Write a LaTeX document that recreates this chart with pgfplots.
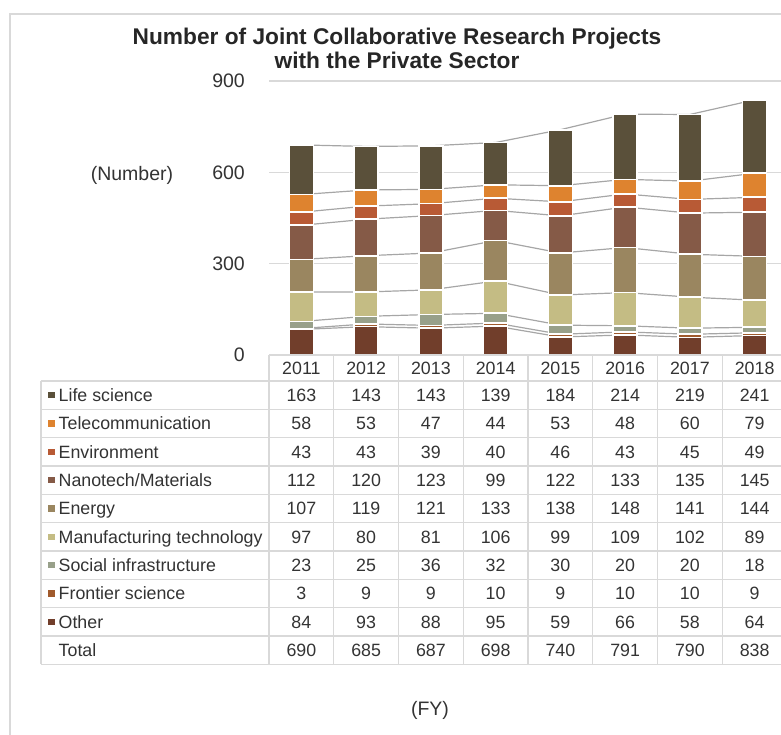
\documentclass[border=0pt]{standalone}
\usepackage{fontspec}
\setmainfont{Liberation Sans}
\usepackage{pgfplots}
\usepackage{pgfplotstable}
\pgfplotsset{compat=1.18}

\definecolor{lifec}{HTML}{5A503A}
\definecolor{telec}{HTML}{DE832F}
\definecolor{envc}{HTML}{B85A35}
\definecolor{nanoc}{HTML}{855A47}
\definecolor{energyc}{HTML}{9A8660}
\definecolor{manufc}{HTML}{C4BC84}
\definecolor{socialc}{HTML}{98A08A}
\definecolor{frontc}{HTML}{A05A2C}
\definecolor{otherc}{HTML}{713E2B}
\definecolor{gridc}{HTML}{D9D9D9}
\definecolor{serc}{HTML}{A6A6A6}
\definecolor{txt}{HTML}{333333}

% projects per field, FY2011-2018 (x = 0..7)
\pgfplotstableread{
x year other frontier social manuf energy nano env tele life total
0 2011 84 3 23 97 107 112 43 58 163 690
1 2012 93 9 25 80 119 120 43 53 143 685
2 2013 88 9 36 81 121 123 39 47 143 687
3 2014 95 10 32 106 133 99 40 44 139 698
4 2015 59 9 30 99 138 122 46 53 184 740
5 2016 66 10 20 109 148 133 43 48 214 791
6 2017 58 10 20 102 141 135 45 60 219 790
7 2018 64 9 18 89 144 145 49 79 241 838
}\data

\newcommand\tabfont{\fontsize{17.8}{20}\selectfont}
\tikzset{serline/.style={draw=serc, solid, line width=1.2pt, mark=none}}

\begin{document}
\begin{tikzpicture}[x=1pt,y=1pt]
\useasboundingbox (0,0) rectangle (781,735);

% outer frame
\draw[gridc, line width=1.8pt] (10,-20) -- (10,721) -- (800,721);

% title and labels
\node[font=\fontsize{22.7}{26}\selectfont\bfseries, text=black!85, anchor=base, inner sep=0pt] at (397,690) {Number of Joint Collaborative Research Projects};
\node[font=\fontsize{22.7}{26}\selectfont\bfseries, text=black!85, anchor=base, inner sep=0pt] at (397,666) {with the Private Sector};
\node[font=\fontsize{19.5}{23}\selectfont, text=txt] at (132,560) {(Number)};
\node[font=\fontsize{19.5}{23}\selectfont, text=txt] at (430,25) {(FY)};

% grid and series lines (stacked lines land on segment tops)
\begin{axis}[
    at={(269pt,380pt)}, anchor=south west,
    scale only axis, width=518pt, height=274pt,
    xmin=-0.5, xmax=7.5, ymin=0, ymax=900,
    xtick=\empty, ytick={0,300,600,900},
    ymajorgrids, grid style={draw=gridc, line width=1.3pt},
    axis line style={draw=none}, major tick length=0pt,
    yticklabel style={font=\fontsize{19.5}{22}\selectfont, text=txt,
        /pgf/number format/assume math mode=true, anchor=east, inner sep=0pt},
    yticklabel shift=24pt,
    stack plots=y,
  ]
  \addplot[serline] table[x=x,y=other]{\data};
  \addplot[serline] table[x=x,y=frontier]{\data};
  \addplot[serline] table[x=x,y=social]{\data};
  \addplot[serline] table[x=x,y=manuf]{\data};
  \addplot[serline] table[x=x,y=energy]{\data};
  \addplot[serline] table[x=x,y=nano]{\data};
  \addplot[serline] table[x=x,y=env]{\data};
  \addplot[serline] table[x=x,y=tele]{\data};
  \addplot[serline] table[x=x,y=life]{\data};
\end{axis}

% stacked bars
\begin{axis}[
    at={(269pt,380pt)}, anchor=south west,
    scale only axis, width=518pt, height=274pt,
    xmin=-0.5, xmax=7.5, ymin=0, ymax=900,
    hide axis, ybar stacked, bar width=24pt,
    every axis plot/.append style={draw=white, line width=1.6pt},
  ]
  \addplot[fill=otherc] table[x=x,y=other]{\data};
  \addplot[fill=frontc] table[x=x,y=frontier]{\data};
  \addplot[fill=socialc] table[x=x,y=social]{\data};
  \addplot[fill=manufc] table[x=x,y=manuf]{\data};
  \addplot[fill=energyc] table[x=x,y=energy]{\data};
  \addplot[fill=nanoc] table[x=x,y=nano]{\data};
  \addplot[fill=envc] table[x=x,y=env]{\data};
  \addplot[fill=telec] table[x=x,y=tele]{\data};
  \addplot[fill=lifec] table[x=x,y=life]{\data};
\end{axis}

% data table
\begin{scope}[gridc, line width=1.3pt]
  \draw (269,380) -- (800,380);
  \foreach \k in {0,...,10} \draw (41,{354-28.333*\k}) -- (800,{354-28.333*\k});
  \draw (41,354) -- (41,70.67);
  \foreach \j in {0,...,8} \draw ({269+64.75*\j},380) -- ({269+64.75*\j},70.67);
\end{scope}

\foreach \i in {0,...,7}{
  \pgfplotstablegetelem{\i}{year}\of\data
  \node[font=\tabfont, text=txt, anchor=base, inner sep=0pt] at ({301.375+64.75*\i},360.6) {\pgfplotsretval};
}
\foreach \c [count=\r from 0] in {life,tele,env,nano,energy,manuf,social,frontier,other,total}{
  \foreach \i in {0,...,7}{
    \pgfplotstablegetelem{\i}{\c}\of\data
    \node[font=\tabfont, text=txt, anchor=base, inner sep=0pt] at ({301.375+64.75*\i},{354-28.333*(\r+0.5)-6.4}) {\pgfplotsretval};
  }
}

% row labels with colour keys
\foreach \col/\lab [count=\r from 0] in {lifec/Life science, telec/Telecommunication, envc/Environment, nanoc/{Nanotech/Materials}, energyc/Energy, manufc/Manufacturing technology, socialc/Social infrastructure, frontc/Frontier science, otherc/Other}{
  \fill[\col] (48,{354-28.333*(\r+0.5)-3.3}) rectangle (54.5,{354-28.333*(\r+0.5)+3.3});
  \node[font=\tabfont, text=txt, anchor=base west, inner sep=0pt] at (58.5,{354-28.333*(\r+0.5)-6.4}) {\lab};
}
\node[font=\tabfont, text=txt, anchor=base west, inner sep=0pt] at (58.5,{354-28.333*9.5-6.4}) {Total};

\end{tikzpicture}
\end{document}
